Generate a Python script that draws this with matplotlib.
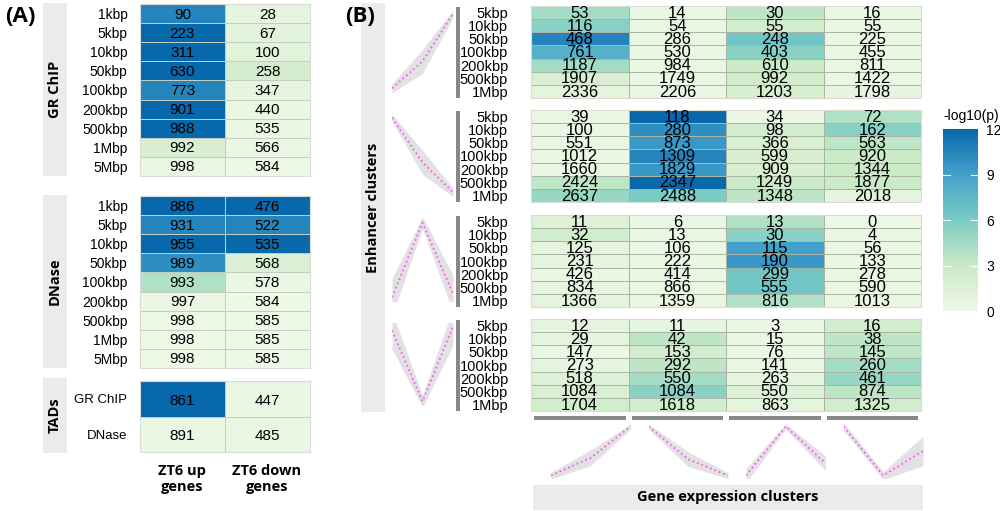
import matplotlib
matplotlib.use("Agg")
import matplotlib.pyplot as plt
import numpy as np
from matplotlib.colors import LinearSegmentedColormap, Normalize

W, H = 1000, 511

# ---- panel A data ----
dist_a = ["1kbp", "5kbp", "10kbp", "50kbp", "100kbp", "200kbp", "500kbp", "1Mbp", "5Mbp"]
gr_counts_up = [90, 223, 311, 630, 773, 901, 988, 992, 998]
gr_counts_down = [28, 67, 100, 258, 347, 440, 535, 566, 584]
gr_logp_up = [10.5, 12, 12, 12, 10.5, 12, 12, 2, 0.6]
gr_logp_down = [0.8, 1.2, 1.2, 2.3, 0.9, 0.5, 0.5, 0.4, 0.3]

dn_counts_up = [886, 931, 955, 989, 993, 997, 998, 998, 998]
dn_counts_down = [476, 522, 535, 568, 578, 584, 585, 585, 585]
dn_logp_up = [12, 10.5, 12, 10, 4, 0.5, 0.3, 0.3, 0.3]
dn_logp_down = [12, 10.5, 12, 1.8, 0.5, 0.3, 0.2, 0.2, 0.2]

tad_rows = ["GR ChIP", "DNase"]
tad_counts_up = [861, 891]
tad_counts_down = [447, 485]
tad_logp_up = [12, 0.5]
tad_logp_down = [0.5, 0.5]

col_labels_a = ["ZT6 up\ngenes", "ZT6 down\ngenes"]

# ---- panel B data ----
dist_b = ["5kbp", "10kbp", "50kbp", "100kbp", "200kbp", "500kbp", "1Mbp"]
# rows: enhancer cluster blocks; columns: gene expression clusters
b_counts = [
    [[53, 14, 30, 16], [116, 54, 55, 55], [468, 286, 248, 225], [761, 530, 403, 455],
     [1187, 984, 610, 811], [1907, 1749, 992, 1422], [2336, 2206, 1203, 1798]],
    [[39, 118, 34, 72], [100, 280, 98, 162], [551, 873, 366, 563], [1012, 1309, 599, 920],
     [1660, 1829, 909, 1344], [2424, 2347, 1249, 1877], [2637, 2488, 1348, 2018]],
    [[11, 6, 13, 0], [32, 13, 30, 4], [125, 106, 115, 56], [231, 222, 190, 133],
     [426, 414, 299, 278], [834, 866, 555, 590], [1366, 1359, 816, 1013]],
    [[12, 11, 3, 16], [29, 42, 15, 38], [147, 153, 76, 145], [273, 292, 141, 260],
     [518, 550, 263, 461], [1084, 1084, 550, 874], [1704, 1618, 863, 1325]],
]
b_logp = [
    [[4.5, 0.5, 3.5, 0.5], [5.5, 0.5, 2.5, 0.5], [10.5, 0.5, 6.5, 0.5], [8, 0.5, 5.5, 0.5],
     [4.5, 0.5, 3, 0.5], [2, 0.5, 2.5, 0.5], [1, 0.5, 2, 0.8]],
    [[0.5, 12, 0.5, 4], [0.5, 10, 2.5, 5.5], [0.5, 9.5, 2, 3.5], [0.5, 10.5, 2, 3],
     [0.5, 9.5, 2, 3], [3.5, 12, 3, 3], [5, 6, 3.5, 1]],
    [[1.5, 0.5, 4, 0.3], [2.5, 0.5, 5.5, 0.5], [1, 0.5, 9, 0.5], [1, 0.5, 9.5, 0.5],
     [0.5, 0.5, 6.5, 0.5], [0.8, 0.5, 6.5, 0.5], [1, 0.5, 4, 0.5]],
    [[0.8, 0.8, 0.5, 2.5], [1, 3.5, 0.5, 3.5], [0.5, 2.5, 0.5, 3.5], [0.8, 3.5, 0.5, 4.5],
     [1.5, 4.5, 1, 5], [2, 5.5, 1.5, 3.5], [2.5, 2.5, 1, 2.5]],
]

# cluster profiles (scaled expression at 3 time points) and ribbon half widths
enh_profiles = [[0, 0.36, 1], [1, 0.4, 0], [0, 1, 0.05], [0.95, 0, 1]]
enh_ribbons = [[0.06, 0.16, 0.05], [0.05, 0.16, 0.06], [0.25, 0.08, 0.25], [0.25, 0.08, 0.25]]
gene_profiles = [[0, 0.36, 1], [1, 0.33, 0], [0, 1, 0.25], [1, 0, 0.5]]
gene_ribbons = [[0.07, 0.16, 0.05], [0.05, 0.15, 0.06], [0.15, 0.05, 0.15], [0.08, 0.08, 0.3]]

cbar_ticks = [0, 3, 6, 9, 12]

cmap = LinearSegmentedColormap.from_list(
    "gnbu", ["#f0f9e8", "#cbeac6", "#7bccc4", "#43a2ca", "#0868ac"])
norm = Normalize(0, 12)

BOLD = ["Open Sans", "DejaVu Sans"]
plt.rcParams["font.family"] = ["Liberation Sans", "DejaVu Sans"]

fig = plt.figure(figsize=(W / 100, H / 100), dpi=100)


def px(x0, y0, x1, y1):
    return fig.add_axes([x0 / W, 1 - y1 / H, (x1 - x0) / W, (y1 - y0) / H])


def heat(box, counts, logp, rows, fs, rfs, pad, edge):
    ax = px(*box)
    counts = np.asarray(counts)
    logp = np.asarray(logp)
    ax.pcolormesh(logp, cmap=cmap, norm=norm, edgecolors=edge, linewidth=0.7)
    ax.set_xlim(0, logp.shape[1])
    ax.set_ylim(logp.shape[0], 0)
    for i in range(counts.shape[0]):
        for j in range(counts.shape[1]):
            ax.text(j + 0.5, i + 0.55, str(counts[i, j]), ha="center", va="center",
                    fontsize=fs, color="black")
    ax.set_yticks(np.arange(len(rows)) + 0.5)
    ax.set_yticklabels(rows, fontsize=rfs)
    ax.tick_params(axis="y", length=0, pad=pad)
    ax.set_xticks([])
    for s in ax.spines.values():
        s.set_color("#d8dcd4")
        s.set_linewidth(0.8)
    return ax


def strip(box, label, vertical=True, fs=10):
    ax = px(*box)
    ax.set_facecolor("#ebebeb")
    ax.set_xticks([])
    ax.set_yticks([])
    for s in ax.spines.values():
        s.set_visible(False)
    ax.text(0.5, 0.5, label, rotation=90 if vertical else 0, ha="center", va="center",
            fontsize=fs, fontweight="bold", family=BOLD, transform=ax.transAxes)


def mini(box, prof, rib):
    ax = px(*box)
    x = np.arange(len(prof))
    prof = np.asarray(prof, float)
    rib = np.asarray(rib, float)
    ax.fill_between(x, prof - rib, prof + rib, color="#e2e2e2", linewidth=0)
    ax.plot(x, prof, linestyle=(0, (1, 1.6)), color="#ff55ff", linewidth=1.3)
    ax.set_xlim(0, len(prof) - 1)
    ax.set_ylim(-0.05, 1.05)
    ax.axis("off")


# ---------------- panel A ----------------
fig.text(5 / W, 1 - 17 / H, "(A)", fontsize=16, fontweight="bold", family=BOLD, va="center")

edge_a = "#c4cec0"
heat((140, 4, 310, 176), np.column_stack([gr_counts_up, gr_counts_down]),
     np.column_stack([gr_logp_up, gr_logp_down]), dist_a, 11, 10, 9, edge_a)
heat((140, 196, 310, 368), np.column_stack([dn_counts_up, dn_counts_down]),
     np.column_stack([dn_logp_up, dn_logp_down]), dist_a, 11, 10, 9, edge_a)
heat((140, 381, 310, 452), np.column_stack([tad_counts_up, tad_counts_down]),
     np.column_stack([tad_logp_up, tad_logp_down]), tad_rows, 11, 9.5, 9, edge_a)

strip((43, 3, 67, 176), "GR ChIP", fs=10.5)
strip((43, 195, 67, 368), "DNase", fs=10.5)
strip((43, 378, 67, 453), "TADs", fs=10.5)

for k, lab in enumerate(col_labels_a):
    fig.text((182 + 85 * k) / W, 1 - 479 / H, lab, ha="center", va="center",
             fontsize=10.5, fontweight="bold", family=BOLD, linespacing=1.25)

# ---------------- panel B ----------------
fig.text(345 / W, 1 - 17 / H, "(B)", fontsize=16, fontweight="bold", family=BOLD, va="center")

strip((361, 3, 385, 412), "Enhancer clusters", fs=10.5)

blocks_y = [(6, 98), (110, 202), (215, 307), (319, 411)]
edge_b = "#a9b5a5"
for b, (y0, y1) in enumerate(blocks_y):
    heat((531, y0, 921, y1), b_counts[b], b_logp[b], dist_b, 12, 10.5, 16.5, edge_b)
    bar = px(456, y0 + 1, 460, y1)
    bar.set_facecolor("#888888")
    bar.set_xticks([])
    bar.set_yticks([])
    for s in bar.spines.values():
        s.set_visible(False)
    mini((392, y0 + 4, 453, y1 - 6), enh_profiles[b], enh_ribbons[b])

col_w = (921 - 531) / 4
for c in range(4):
    x0 = 531 + c * col_w
    bar = px(x0 + 3, 416, x0 + col_w - 3, 420)
    bar.set_facecolor("#888888")
    bar.set_xticks([])
    bar.set_yticks([])
    for s in bar.spines.values():
        s.set_visible(False)
    mini((x0 + 20, 424, x0 + col_w + 2, 478), gene_profiles[c], gene_ribbons[c])

strip((533, 485, 923, 510), "Gene expression clusters", vertical=False, fs=10.5)

# colorbar
cax = px(943, 129, 978, 311)
grad = np.linspace(0, 12, 256).reshape(-1, 1)
cax.imshow(grad, cmap=cmap, norm=norm, aspect="auto", origin="lower", extent=(0, 1, 0, 12))
for t in cbar_ticks[1:-1]:
    cax.plot([0, 0.2], [t, t], color="white", linewidth=0.8)
    cax.plot([0.8, 1], [t, t], color="white", linewidth=0.8)
cax.set_xlim(0, 1)
cax.set_ylim(0, 12)
cax.set_xticks([])
cax.yaxis.tick_right()
cax.set_yticks(cbar_ticks)
cax.set_yticklabels([str(t) for t in cbar_ticks], fontsize=10)
cax.tick_params(axis="y", length=0, pad=6)
for s in cax.spines.values():
    s.set_visible(False)
fig.text(943 / W, 1 - 116 / H, "-log10(p)", fontsize=10, va="center", ha="left")

fig.savefig("out.png", dpi=100)
